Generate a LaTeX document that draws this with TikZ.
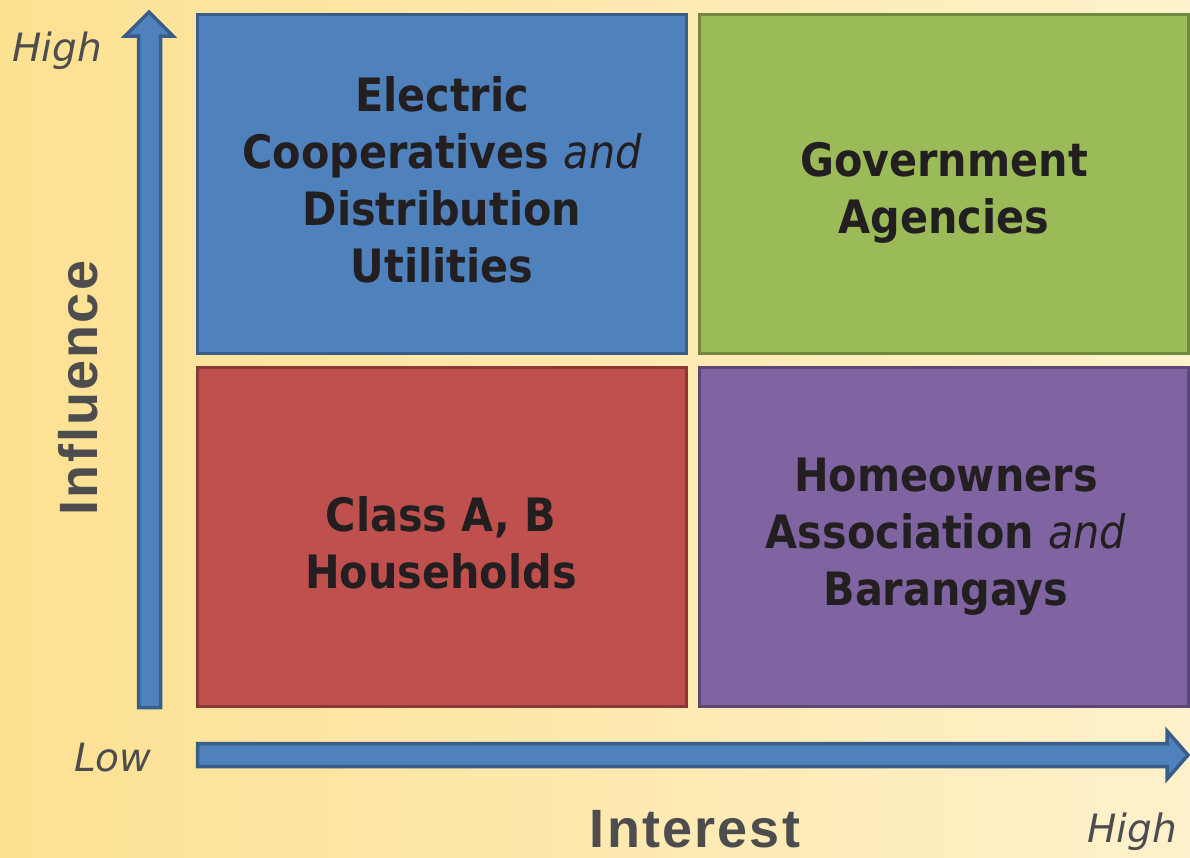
\documentclass[tikz,border=0pt]{standalone}
\usepackage{fontspec}
\setmainfont{DejaVu Sans}
\newfontfamily\quadfont{DejaVu Sans Condensed}
\newfontfamily\axisfont{Liberation Sans}

\definecolor{bgwarm}{RGB}{253,225,146}
\definecolor{bgpale}{RGB}{254,241,203}
\definecolor{qblue}{RGB}{79,129,189}
\definecolor{qblueedge}{RGB}{56,93,138}
\definecolor{qgreen}{RGB}{155,187,89}
\definecolor{qgreenedge}{RGB}{113,137,63}
\definecolor{qred}{RGB}{192,80,77}
\definecolor{qrededge}{RGB}{140,56,54}
\definecolor{qpurple}{RGB}{128,100,162}
\definecolor{qpurpleedge}{RGB}{92,71,118}
\definecolor{inktext}{RGB}{35,31,32}
\definecolor{axistext}{RGB}{77,77,79}

\tikzset{
	quadrant/.style={draw, line width=3pt, minimum width=489pt, minimum height=339pt, inner sep=0pt},
	quadlabel/.style={align=center, anchor=base, text=inktext, font=\quadfont\fontsize{46}{57}\selectfont\bfseries},
	axisarrow/.style={fill=qblue, draw=qblueedge, line width=3.5pt, line join=miter},
	endlabel/.style={anchor=base, inner sep=1pt, text=axistext, font=\fontsize{39}{40}\selectfont\itshape},
	axisname/.style={anchor=base, inner sep=1pt, text depth=0pt, text=axistext, font=\axisfont\fontsize{54}{56}\selectfont\bfseries\addfontfeature{LetterSpace=4}}
}

\begin{document}
\begin{tikzpicture}[x=1pt, y=-1pt]

	\useasboundingbox (0,0) rectangle (1190,857);
	\shade[left color=bgwarm, right color=bgpale] (0,0) rectangle (1190,857);

	\coordinate (Q1) at (442, 184);
	\coordinate (Q2) at (944, 184);
	\coordinate (Q3) at (442, 537);
	\coordinate (Q4) at (944, 537);

	\node[quadrant, fill=qblue, draw=qblueedge] (coop) at (Q1) {};
	\node[quadrant, fill=qgreen, draw=qgreenedge] (gov) at (Q2) {};
	\node[quadrant, fill=qred, draw=qrededge] (house) at (Q3) {};
	\node[quadrant, fill=qpurple, draw=qpurpleedge] (hoa) at (Q4) {};

	% last baselines of the quadrant texts
	\node[quadlabel] (coopText) at (442, 282) {Electric\\Cooperatives {\mdseries\itshape and}\\Distribution\\Utilities};
	\node[quadlabel] (govText) at (944, 233) {Government\\Agencies};
	\node[quadlabel] (houseText) at (441, 588) {Class A, B\\Households};
	\node[quadlabel] (hoaText) at (946, 605) {Homeowners\\Association {\mdseries\itshape and}\\Barangays};

	% axes
	\draw[axisarrow] (138.5,707.5) -- (138.5,36) -- (125,36) -- (149,12) -- (173,36) -- (160.5,36) -- (160.5,707.5) -- cycle;
	\draw[axisarrow] (197.5,743.5) -- (1167,743.5) -- (1167,731) -- (1188,755) -- (1167,779) -- (1167,766.5) -- (197.5,766.5) -- cycle;

	\node[endlabel] (yHigh) at (57, 61) {High};
	\node[endlabel] (xLow) at (113, 771) {Low};
	\node[endlabel] (xHigh) at (1132, 842) {High};

	\node[axisname] (interest) at (695, 847) {Interest};
	\node[axisname, rotate=90] (influence) at (97, 388) {Influence};

\end{tikzpicture}
\end{document}
